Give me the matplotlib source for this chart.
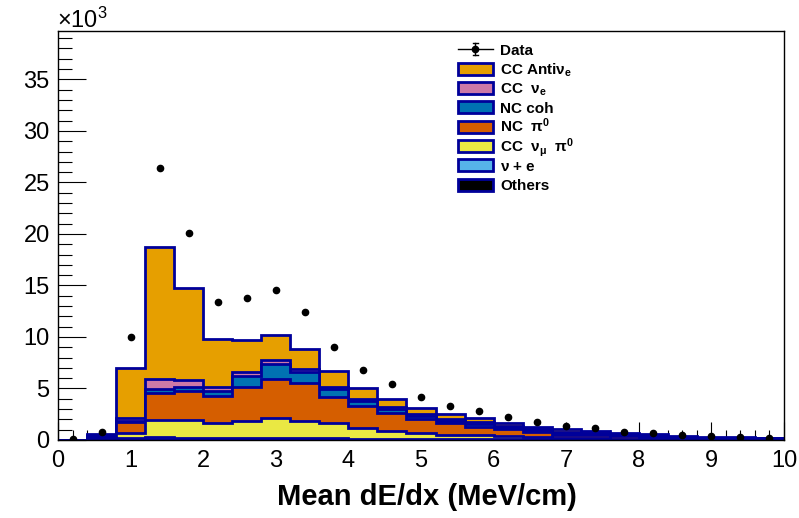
import numpy as np
import matplotlib
matplotlib.use("Agg")
import matplotlib.pyplot as plt
from matplotlib.lines import Line2D
from matplotlib.patches import Rectangle

plt.rcParams['font.family'] = ['Liberation Sans', 'DejaVu Sans']
plt.rcParams['mathtext.fontset'] = 'custom'
plt.rcParams['mathtext.rm'] = 'Liberation Sans'

# Mean dE/dx binning, 25 bins of 0.4 MeV/cm
bin_edges = np.linspace(0, 10, 26)

# Event counts per bin, in thousands
data_counts = [0.1, 0.8, 10.0, 26.4, 20.1, 13.35, 13.8, 14.6, 12.45, 9.0,
               6.75, 5.45, 4.2, 3.3, 2.8, 2.2, 1.7, 1.4, 1.2, 0.8,
               0.63, 0.48, 0.36, 0.33, 0.22]

others = [0, 0.10, 0.05, 0.05, 0.05, 0.05, 0.05, 0.05, 0.05, 0.05,
          0.04, 0.04, 0.03, 0.03, 0.03, 0.03, 0.03, 0.03, 0.03, 0.02,
          0.02, 0.02, 0.01, 0.01, 0.01]
nu_e_scatter = [0, 0.05, 0.10, 0.25, 0.15, 0.10, 0.10, 0.12, 0.10, 0.10,
                0.08, 0.07, 0.06, 0.05, 0.05, 0.04, 0.04, 0.03, 0.03, 0.02,
                0.02, 0.02, 0.02, 0.01, 0.01]
cc_numu_pi0 = [0, 0.08, 0.55, 1.62, 1.74, 1.53, 1.72, 1.93, 1.72, 1.47,
               1.07, 0.76, 0.56, 0.40, 0.42, 0.30, 0.20, 0.12, 0.10, 0.08,
               0.06, 0.04, 0.03, 0.03, 0.02]
nc_pi0 = [0, 0.15, 1.00, 2.65, 2.84, 2.59, 3.30, 3.82, 3.63, 2.58,
          2.11, 1.72, 1.35, 1.14, 0.80, 0.65, 0.55, 0.35, 0.28, 0.22,
          0.18, 0.12, 0.10, 0.08, 0.07]
nc_coh = [0, 0.05, 0.10, 0.42, 0.39, 0.51, 1.03, 1.45, 1.06, 0.75,
          0.51, 0.41, 0.33, 0.25, 0.26, 0.20, 0.15, 0.15, 0.12, 0.10,
          0.09, 0.06, 0.05, 0.04, 0.04]
cc_nue = [0, 0.05, 0.30, 0.97, 0.65, 0.39, 0.43, 0.39, 0.33, 0.22,
          0.14, 0.17, 0.16, 0.13, 0.14, 0.10, 0.08, 0.10, 0.08, 0.06,
          0.05, 0.04, 0.03, 0.03, 0.02]
cc_anti_nue = [0, 0.10, 4.85, 12.74, 8.98, 4.60, 3.10, 2.44, 1.91, 1.49,
               1.12, 0.83, 0.64, 0.49, 0.40, 0.30, 0.24, 0.25, 0.20, 0.15,
               0.13, 0.09, 0.08, 0.06, 0.05]

# stack from bottom to top
components = [
    ("Others", others, "#000000"),
    (r"$\mathregular{\nu}$ + e", nu_e_scatter, "#56B4E9"),
    (r"CC  $\mathregular{\nu_{\mu}}$  $\mathregular{\pi^{0}}$", cc_numu_pi0, "#EAE843"),
    (r"NC  $\mathregular{\pi^{0}}$", nc_pi0, "#D55E00"),
    ("NC coh", nc_coh, "#0072B2"),
    (r"CC  $\mathregular{\nu_{e}}$", cc_nue, "#CC79A7"),
    (r"CC Anti$\mathregular{\nu_{e}}$", cc_anti_nue, "#E69F00"),
]
edge = "#00009A"

W, H = 799, 518
fig = plt.figure(figsize=(W / 100, H / 100), dpi=100)
ax = fig.add_axes([0.0726, 0.1506, 0.9086, 0.7896])

cumulative = np.cumsum([np.array(c[1]) for c in components], axis=0)

# draw the tallest cumulative first so lower ones sit on top of it
for i in range(len(components) - 1, -1, -1):
    ax.stairs(cumulative[i], bin_edges, baseline=0, fill=True,
              color=components[i][2], zorder=2)
    ax.stairs(cumulative[i], bin_edges, baseline=0, fill=False,
              color=edge, lw=2, zorder=2)

centers = 0.5 * (bin_edges[:-1] + bin_edges[1:])
data_counts = np.array(data_counts)
data_err = np.sqrt(data_counts * 1000) / 1000
ax.errorbar(centers, data_counts, yerr=data_err, fmt='o', color='black',
            ms=4.5, elinewidth=1, capsize=0, zorder=4)

ax.set_xlim(0, 10)
ax.set_ylim(0, 39.7)
ax.set_xticks(np.arange(0, 11, 1))
ax.set_xticks(np.arange(0, 10.01, 0.2), minor=True)
ax.set_yticks(np.arange(0, 36, 5))
ax.set_yticks(np.arange(0, 39.7, 1), minor=True)
ax.tick_params(axis='x', which='major', direction='in', length=13, width=0.8,
               labelsize=17, pad=7)
ax.tick_params(axis='x', which='minor', direction='in', length=7, width=0.8)
ax.tick_params(axis='y', which='major', direction='in', length=20, width=0.8,
               labelsize=17, pad=6)
ax.tick_params(axis='y', which='minor', direction='in', length=10, width=0.8)
for s in ax.spines.values():
    s.set_linewidth(1)
    s.set_zorder(5)

ax.set_xlabel("Mean dE/dx (MeV/cm)", fontsize=21, fontweight='bold')
ax.xaxis.set_label_coords(0.5076, -0.106)
ax.text(-0.002, 1.0073, r"$\mathregular{\times10^{3}}$", transform=ax.transAxes,
        fontsize=17, ha='left', va='baseline')


# legend rows laid out in figure pixels
def fx(px):
    return px / W


def fy(py):
    return 1 - py / H


row0, row_step = 49.3, 19.34
box_l, box_r, box_h = 458, 493, 12
text_x = 500

# data entry: horizontal line, dot and capped error bar
yc = row0
fig.add_artist(Line2D([fx(box_l), fx(box_r)], [fy(yc), fy(yc)], color='black', lw=1))
fig.add_artist(Line2D([fx(475.5)] * 2, [fy(yc - 6), fy(yc + 6)], color='black', lw=1))
for yy in (yc - 6, yc + 6):
    fig.add_artist(Line2D([fx(473), fx(478)], [fy(yy)] * 2, color='black', lw=1))
fig.add_artist(Line2D([fx(475.5)], [fy(yc)], marker='o', ms=4.5, color='black'))
fig.text(fx(text_x), fy(yc + 5.5), "Data", fontsize=11, fontweight='bold',
         va='baseline', ha='left')

for k, (name, _, color) in enumerate(reversed(components), start=1):
    yc = row0 + row_step * k
    fig.add_artist(Rectangle((fx(box_l), fy(yc + box_h / 2)),
                             fx(box_r - box_l), box_h / H,
                             transform=fig.transFigure, facecolor=color,
                             edgecolor=edge, lw=2))
    fig.text(fx(text_x), fy(yc + 5.5), name, fontsize=11, fontweight='bold',
             va='baseline', ha='left')

fig.savefig("out.png", dpi=100)
